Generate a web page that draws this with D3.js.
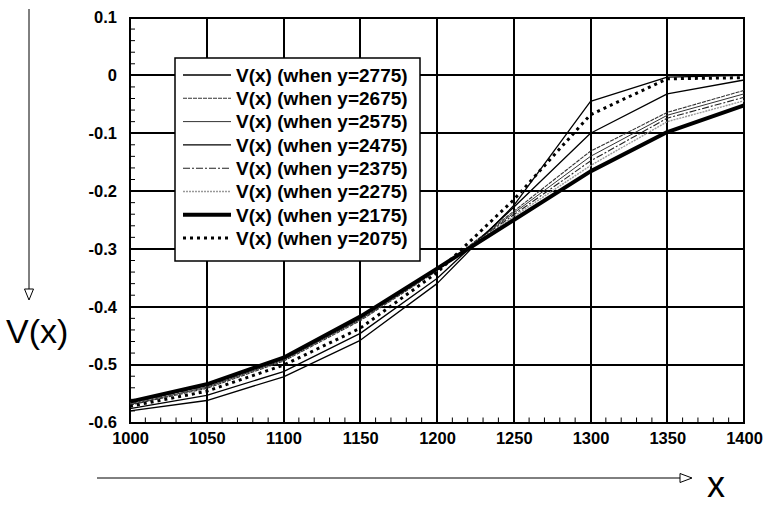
<!DOCTYPE html>
<html>
<head>
<meta charset="utf-8">
<script src="https://cdn.jsdelivr.net/npm/d3@7"></script>
<style>
  body { margin: 0; background: #fff; }
  svg { display: block; }
  text { font-family: "Liberation Sans", Arial, sans-serif; }
</style>
</head>
<body>
<div id="chart"></div>
<script>
// x positions shared by every series
const xValues = [1000, 1050, 1100, 1150, 1200, 1250, 1300, 1350, 1400];

// V(x) for each y
const v2775 = [-0.580, -0.562, -0.521, -0.458, -0.360, -0.225, -0.045, -0.003, 0.000];
const v2675 = [-0.570, -0.541, -0.494, -0.424, -0.338, -0.235, -0.131, -0.064, -0.026];
const v2575 = [-0.569, -0.539, -0.492, -0.422, -0.337, -0.238, -0.140, -0.069, -0.032];
const v2475 = [-0.576, -0.553, -0.512, -0.446, -0.351, -0.228, -0.100, -0.032, -0.008];
const v2375 = [-0.567, -0.537, -0.491, -0.421, -0.336, -0.241, -0.148, -0.074, -0.038];
const v2275 = [-0.566, -0.536, -0.490, -0.420, -0.335, -0.244, -0.156, -0.080, -0.044];
const v2175 = [-0.564, -0.534, -0.488, -0.417, -0.334, -0.250, -0.166, -0.098, -0.052];
const v2075 = [-0.572, -0.546, -0.501, -0.437, -0.341, -0.215, -0.068, -0.006, -0.004];

const seriesNames = ['V(x) (when y=2775)', 'V(x) (when y=2675)', 'V(x) (when y=2575)', 'V(x) (when y=2475)',
                     'V(x) (when y=2375)', 'V(x) (when y=2275)', 'V(x) (when y=2175)', 'V(x) (when y=2075)'];
const seriesValues = [v2775, v2675, v2575, v2475, v2375, v2275, v2175, v2075];

const xTicks = [1000, 1050, 1100, 1150, 1200, 1250, 1300, 1350, 1400];
const xTickLabels = ['1000', '1050', '1100', '1150', '1200', '1250', '1300', '1350', '1400'];
const yTicks = [0.1, 0, -0.1, -0.2, -0.3, -0.4, -0.5, -0.6];
const yTickLabels = ['0.1', '0', '-0.1', '-0.2', '-0.3', '-0.4', '-0.5', '-0.6'];

// line looks, in the same order as the series
const lineStyles = [
    { w: 1.3, dash: null, color: '#000' },
    { w: 1.1, dash: '4,1', color: '#333' },
    { w: 1.0, dash: null, color: '#333' },
    { w: 1.3, dash: null, color: '#000' },
    { w: 1.1, dash: '7,2,2,2', color: '#222' },
    { w: 1.4, dash: '2,1', color: '#999' },
    { w: 4.0, dash: null, color: '#000' },
    { w: 3.0, dash: '3,4', color: '#000' }
];

const width = 763, height = 509;
const margin = { top: 17.5, right: 19, bottom: 86.5, left: 130 };

const svg = d3.select('#chart').append('svg')
    .attr('width', width)
    .attr('height', height);

const x = d3.scaleLinear().domain([1000, 1400]).range([margin.left, width - margin.right]);
const y = d3.scaleLinear().domain([-0.6, 0.1]).range([height - margin.bottom, margin.top]);

// grid
const grid = svg.append('g').attr('stroke', '#000').attr('stroke-width', 2)
    .attr('shape-rendering', 'crispEdges');
grid.selectAll('.vg').data(xTicks.slice(1, -1)).enter().append('line')
    .attr('x1', d => x(d)).attr('x2', d => x(d))
    .attr('y1', y(0.1)).attr('y2', y(-0.6));
grid.selectAll('.hg').data(yTicks.slice(1, -1)).enter().append('line')
    .attr('x1', x(1000)).attr('x2', x(1400))
    .attr('y1', d => y(d)).attr('y2', d => y(d));

// minor ticks pointing into the plot
const xMinor = d3.range(1010, 1400, 10);
const yMinor = d3.range(-58, 10, 2).map(d => d / 100);
svg.append('g').attr('stroke', '#000').attr('stroke-width', 1)
    .selectAll('line').data(xMinor).enter().append('line')
    .attr('x1', d => x(d)).attr('x2', d => x(d))
    .attr('y1', y(-0.6)).attr('y2', y(-0.6) - 5);
svg.append('g').attr('stroke', '#000').attr('stroke-width', 1)
    .selectAll('line').data(yMinor).enter().append('line')
    .attr('x1', x(1000)).attr('x2', x(1000) + 5)
    .attr('y1', d => y(d)).attr('y2', d => y(d));

// frame
svg.append('rect')
    .attr('x', x(1000)).attr('y', y(0.1))
    .attr('width', x(1400) - x(1000)).attr('height', y(-0.6) - y(0.1))
    .attr('fill', 'none').attr('stroke', '#000').attr('stroke-width', 2)
    .attr('shape-rendering', 'crispEdges');

// axes (labels only)
const xAxis = svg.append('g')
    .attr('transform', `translate(0,${y(-0.6)})`)
    .call(d3.axisBottom(x).tickValues(xTicks).tickSize(0).tickPadding(10)
        .tickFormat((d, i) => xTickLabels[i]));
const yAxis = svg.append('g')
    .attr('transform', `translate(${x(1000)},0)`)
    .call(d3.axisLeft(y).tickValues(yTicks).tickSize(0).tickPadding(13)
        .tickFormat((d, i) => yTickLabels[i]));
[xAxis, yAxis].forEach(g => {
    g.select('.domain').remove();
    g.selectAll('text')
        .attr('font-family', '"Liberation Sans", Arial, sans-serif')
        .attr('font-weight', 'bold')
        .attr('font-size', 16.5)
        .attr('fill', '#000');
});

// series
const line = d3.line()
    .x((d, i) => x(xValues[i]))
    .y(d => y(d));

svg.append('g').selectAll('path')
    .data(seriesValues)
    .enter()
    .append('path')
    .attr('d', line)
    .attr('fill', 'none')
    .attr('stroke', (d, i) => lineStyles[i].color)
    .attr('stroke-width', (d, i) => lineStyles[i].w)
    .attr('stroke-dasharray', (d, i) => lineStyles[i].dash)
    .attr('stroke-linejoin', 'round');

// legend
const legend = svg.append('g');
legend.append('rect')
    .attr('x', 175).attr('y', 58)
    .attr('width', 245).attr('height', 203)
    .attr('fill', '#fff').attr('stroke', '#000').attr('stroke-width', 1.5);
const rows = legend.selectAll('.row').data(seriesNames).enter().append('g')
    .attr('transform', (d, i) => `translate(0,${75 + i * 23.3})`);
rows.append('line')
    .attr('x1', 183).attr('x2', 231).attr('y1', 0).attr('y2', 0)
    .attr('stroke', (d, i) => lineStyles[i].color)
    .attr('stroke-width', (d, i) => lineStyles[i].w)
    .attr('stroke-dasharray', (d, i) => lineStyles[i].dash);
rows.append('text')
    .attr('x', 236).attr('y', 0).attr('dy', '0.36em')
    .attr('font-weight', 'bold').attr('font-size', 19)
    .text(d => d);

// direction arrows and axis names
svg.append('line').attr('x1', 29).attr('x2', 29).attr('y1', 9).attr('y2', 290)
    .attr('stroke', '#000').attr('stroke-width', 1);
svg.append('path').attr('d', 'M24.5,289 L33.5,289 L29,300 Z')
    .attr('fill', '#fff').attr('stroke', '#000').attr('stroke-width', 1);
svg.append('text').attr('x', 6).attr('y', 343)
    .attr('font-size', 34).text('V(x)');

svg.append('line').attr('x1', 97).attr('x2', 681).attr('y1', 478).attr('y2', 478)
    .attr('stroke', '#000').attr('stroke-width', 1);
svg.append('path').attr('d', 'M680,473.5 L680,482.5 L692,478 Z')
    .attr('fill', '#fff').attr('stroke', '#000').attr('stroke-width', 1);
svg.append('text').attr('x', 707).attr('y', 497)
    .attr('font-size', 36).text('x');
</script>
</body>
</html>
